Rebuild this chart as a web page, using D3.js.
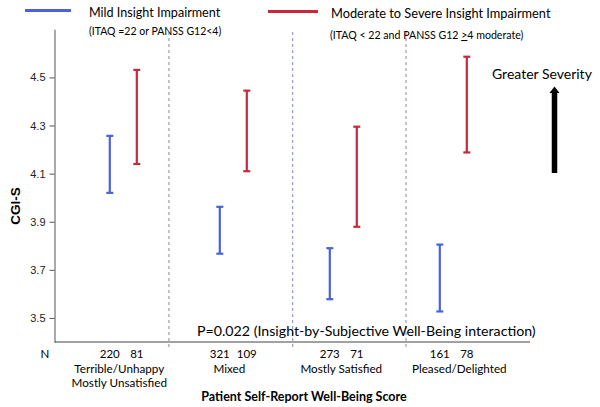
<!DOCTYPE html>
<html>
<head>
<meta charset="utf-8">
<script src="https://cdn.jsdelivr.net/npm/d3@7"></script>
<style>
  body { margin: 0; background: #fff; }
  svg { display: block; }
</style>
</head>
<body>
<svg id="chart" width="600" height="407"></svg>
<script>
// ---- data ----
const categories = ["Terrible/Unhappy|Mostly Unsatisfied", "Mixed", "Mostly Satisfied", "Pleased/Delighted"];
const series = ["Mild", "Moderate"];
const mildLow  = [4.02, 3.767, 3.578, 3.527];
const mildHigh = [4.257, 3.962, 3.79, 3.805];
const modLow   = [4.14, 4.11, 3.879, 4.188];
const modHigh  = [4.531, 4.445, 4.295, 4.586];
const mildN = [220, 321, 273, 161];
const modN  = [81, 109, 71, 78];
const yTicks = [3.5, 3.7, 3.9, 4.1, 4.3, 4.5];
const dividers = [0.415, 1.54, 2.57];   // in category-index units

const blue = "#4b63d8", red = "#c8283a";
const sans = "Lato, 'Open Sans', sans-serif";

const svg = d3.select("#chart");
const margin = {left: 54.5, right: 530, top: 29.3, bottom: 342};

const y = d3.scaleLinear().domain([3.4, 4.7]).range([margin.bottom, margin.top]);
const x = d3.scaleBand().domain(categories).range([68.3, 508.3]).padding(0);
const xi = d3.scaleLinear().domain([-0.5, 3.5]).range([68.3, 508.3]);
const inner = d3.scalePoint().domain(series).range([-13.5, 13.5]);
const cx = (i, s) => x(categories[i]) + x.bandwidth() / 2 + inner(s);

// y axis
const yAxis = d3.axisLeft(y).tickValues(yTicks).tickFormat(d3.format(".1f")).tickSize(5).tickPadding(4).tickSizeOuter(0);
const gy = svg.append("g").attr("transform", `translate(${margin.left},0)`).call(yAxis);
gy.select(".domain").attr("stroke", "#555").attr("stroke-width", 1);
gy.selectAll(".tick line").attr("stroke", "#555");
gy.selectAll(".tick text").attr("font-family", "'Liberation Sans', Arial, sans-serif").attr("font-size", 11).attr("fill", "#222");

// x axis line
svg.append("line").attr("x1", margin.left).attr("x2", margin.right)
  .attr("y1", margin.bottom).attr("y2", margin.bottom).attr("stroke", "#444").attr("stroke-width", 1);

// dividers
svg.selectAll(".div").data(dividers).join("line")
  .attr("x1", d => xi(d)).attr("x2", d => xi(d))
  .attr("y1", 32).attr("y2", 348)
  .attr("stroke", "#7d88b8").attr("stroke-width", 1).attr("stroke-dasharray", "3,3");

// error bars
function drawBars(lo, hi, s, color) {
  const g = svg.append("g").attr("stroke", color).attr("stroke-width", 2.2).attr("fill", "none");
  lo.forEach((v, i) => {
    const xx = cx(i, s);
    g.append("line").attr("x1", xx).attr("x2", xx).attr("y1", y(v)).attr("y2", y(hi[i]));
    g.append("line").attr("x1", xx - 3.5).attr("x2", xx + 3.5).attr("y1", y(v)).attr("y2", y(v));
    g.append("line").attr("x1", xx - 3.5).attr("x2", xx + 3.5).attr("y1", y(hi[i])).attr("y2", y(hi[i]));
  });
}
drawBars(mildLow, mildHigh, "Mild", blue);
drawBars(modLow, modHigh, "Moderate", red);

// N labels
svg.append("text").attr("x", 45).attr("y", 357.5).attr("text-anchor", "middle")
  .attr("font-family", sans).attr("font-size", 11.5).attr("fill", "#000").text("N");
[[mildN, "Mild"], [modN, "Moderate"]].forEach(([arr, s]) => {
  svg.selectAll(null).data(arr).join("text")
    .attr("x", (d, i) => cx(i, s)).attr("y", 357.5).attr("text-anchor", "middle")
    .attr("font-family", sans).attr("font-size", 11.5).attr("fill", "#000").text(d => d);
});

// category labels
categories.forEach((c, i) => {
  const lines = c.split("|");
  const xx = x(c) + x.bandwidth() / 2 - 4 + (i === 3 ? 10 : 0) + (i === 2 ? 2 : 0);
  lines.forEach((l, k) => {
    svg.append("text").attr("x", xx).attr("y", 372.5 + k * 14).attr("text-anchor", "middle")
      .attr("font-family", sans).attr("font-size", 11.7).attr("fill", "#000").text(l);
  });
});

// x title
svg.append("text").attr("x", 304).attr("y", 400.5).attr("text-anchor", "middle")
  .attr("font-family", sans).attr("font-weight", "bold").attr("font-size", 12.5).attr("fill", "#000")
  .text("Patient Self-Report Well-Being Score");

// y title
svg.append("text").attr("transform", "translate(20,206) rotate(-90)").attr("text-anchor", "middle")
  .attr("font-family", "'Liberation Sans', Arial, sans-serif").attr("font-weight", "bold").attr("font-size", 13.5).attr("fill", "#000")
  .text("CGI-S");

// P text
svg.append("text").attr("x", 197).attr("y", 336).attr("font-family", sans).attr("font-size", 14.2).attr("fill", "#000")
  .text("P=0.022 (Insight-by-Subjective Well-Being interaction)");

// Greater severity
svg.append("text").attr("x", 492).attr("y", 79).attr("font-family", sans).attr("font-size", 14).attr("fill", "#000")
  .text("Greater Severity");
svg.append("line").attr("x1", 554.5).attr("x2", 554.5).attr("y1", 173).attr("y2", 92)
  .attr("stroke", "#000").attr("stroke-width", 5.5);
svg.append("path").attr("d", "M549.5,93 L554.5,86.5 L559.5,93 Z").attr("fill", "#000");

// legend
svg.append("line").attr("x1", 25).attr("x2", 71).attr("y1", 10.5).attr("y2", 10.5).attr("stroke", blue).attr("stroke-width", 3);
svg.append("line").attr("x1", 268).attr("x2", 318).attr("y1", 11.5).attr("y2", 11.5).attr("stroke", red).attr("stroke-width", 3);
svg.append("text").attr("x", 89).attr("y", 17).attr("font-family", sans).attr("font-size", 12.6).attr("fill", "#000").text("Mild Insight Impairment");
svg.append("text").attr("x", 89).attr("y", 35).attr("font-family", sans).attr("font-size", 10.5).attr("fill", "#000").text("(ITAQ =22 or PANSS G12<4)");
svg.append("text").attr("x", 331).attr("y", 17.5).attr("font-family", sans).attr("font-size", 12.8).attr("fill", "#000").text("Moderate to Severe Insight Impairment");
const sub = svg.append("text").attr("x", 330).attr("y", 39).attr("font-family", sans).attr("font-size", 10.6).attr("fill", "#000");
sub.append("tspan").text("(ITAQ < 22 and PANSS G12 ");
sub.append("tspan").attr("text-decoration", "underline").text(">");
sub.append("tspan").text("4 moderate)");
</script>
</body>
</html>
